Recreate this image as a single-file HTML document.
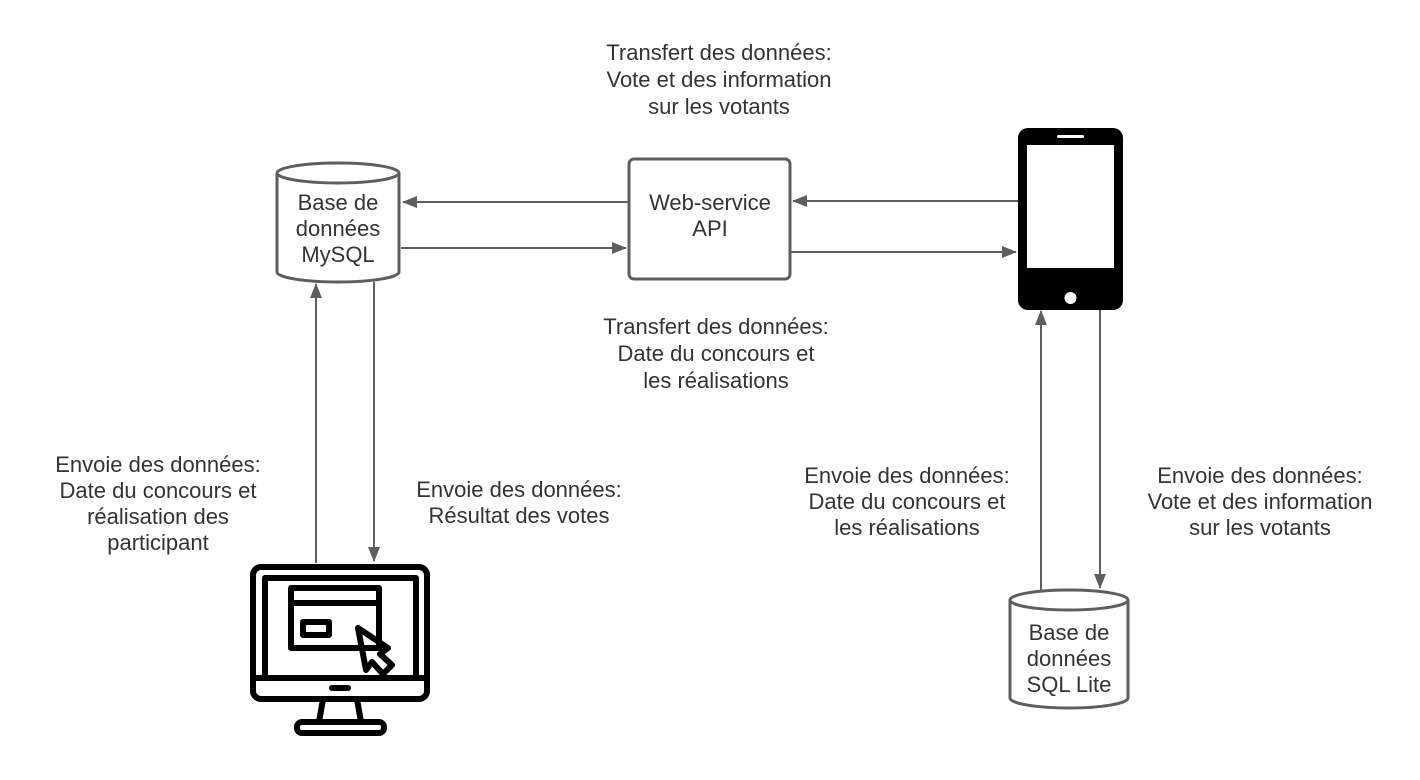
<!DOCTYPE html>
<html><head><meta charset="utf-8"><style>html,body{margin:0;padding:0;background:#fff}svg{display:block}text{font-family:"Liberation Sans",Arial,sans-serif;font-size:22px;fill:#333;text-anchor:middle}</style></head>
<body>
<svg width="1420" height="780" viewBox="0 0 1420 780" xmlns="http://www.w3.org/2000/svg">
<defs>
<marker id="a" markerWidth="15" markerHeight="12" refX="14" refY="6" orient="auto" markerUnits="userSpaceOnUse"><path d="M0,0 L15,6 L0,12 Z" fill="#5e5e5e"/></marker>
</defs>
<g stroke="#5e5e5e" stroke-width="2" fill="none">
<line x1="628" y1="202" x2="403" y2="202" marker-end="url(#a)"/>
<line x1="401" y1="248" x2="626" y2="248" marker-end="url(#a)"/>
<line x1="1018" y1="201" x2="793" y2="201" marker-end="url(#a)"/>
<line x1="791" y1="252" x2="1016" y2="252" marker-end="url(#a)"/>
<line x1="316" y1="563" x2="316" y2="284" marker-end="url(#a)"/>
<line x1="374" y1="282" x2="374" y2="561" marker-end="url(#a)"/>
<line x1="1041" y1="590" x2="1041" y2="311" marker-end="url(#a)"/>
<line x1="1100" y1="309" x2="1100" y2="588" marker-end="url(#a)"/>
</g>
<g stroke="#5e5e5e" stroke-width="3" fill="#fff">
<path d="M277,173 L277,272 A61,10 0 0 0 399,272 L399,173"/>
<ellipse cx="338" cy="173" rx="61" ry="10"/>
<rect x="629" y="159" width="161" height="120" rx="5"/>
<path d="M1010,600 L1010,698 A59,10 0 0 0 1128,698 L1128,600"/>
<ellipse cx="1069" cy="600" rx="59" ry="10"/>
</g>
<text x="338" y="210">Base de</text>
<text x="338" y="236">données</text>
<text x="338" y="262">MySQL</text>
<text x="710" y="210">Web-service</text>
<text x="710" y="236">API</text>
<text x="1069" y="640">Base de</text>
<text x="1069" y="666">données</text>
<text x="1069" y="692">SQL Lite</text>
<rect x="1018" y="128" width="105" height="182" rx="10" fill="#000"/>
<rect x="1027" y="145" width="87" height="123" fill="#fff"/>
<rect x="1057" y="135" width="27" height="3" rx="1.5" fill="#fff"/>
<circle cx="1070.5" cy="298" r="6" fill="#fff"/>
<g stroke="#000" stroke-width="6" fill="none" stroke-linejoin="round">
<rect x="253" y="567" width="174" height="132" rx="8"/>
<rect x="265" y="578" width="151" height="100"/>
<line x1="253" y1="678" x2="427" y2="678"/>
<rect x="291" y="588" width="88" height="60"/>
<line x1="291" y1="603" x2="379" y2="603"/>
<rect x="303" y="622" width="26" height="13"/>
<path d="M358,628 L388,648 L380,654 L392,665 L383,674 L372,662 L366,670 Z"/>
<path d="M323,699 L319,722 M357,699 L361,722"/>
<rect x="297" y="722" width="87" height="11" rx="5"/>
</g>
<rect x="329" y="685" width="22" height="6" rx="3" fill="#000"/>
<text x="719" y="60">Transfert des données:</text>
<text x="719" y="87">Vote et des information</text>
<text x="719" y="114">sur les votants</text>
<text x="716" y="334">Transfert des données:</text>
<text x="716" y="361">Date du concours et</text>
<text x="716" y="388">les réalisations</text>
<text x="158" y="472">Envoie des données:</text>
<text x="158" y="498">Date du concours et</text>
<text x="158" y="524">réalisation des</text>
<text x="158" y="550">participant</text>
<text x="519" y="497">Envoie des données:</text>
<text x="519" y="523">Résultat des votes</text>
<text x="907" y="483">Envoie des données:</text>
<text x="907" y="509">Date du concours et</text>
<text x="907" y="535">les réalisations</text>
<text x="1260" y="483">Envoie des données:</text>
<text x="1260" y="509">Vote et des information</text>
<text x="1260" y="535">sur les votants</text>
</svg>
</body></html>
